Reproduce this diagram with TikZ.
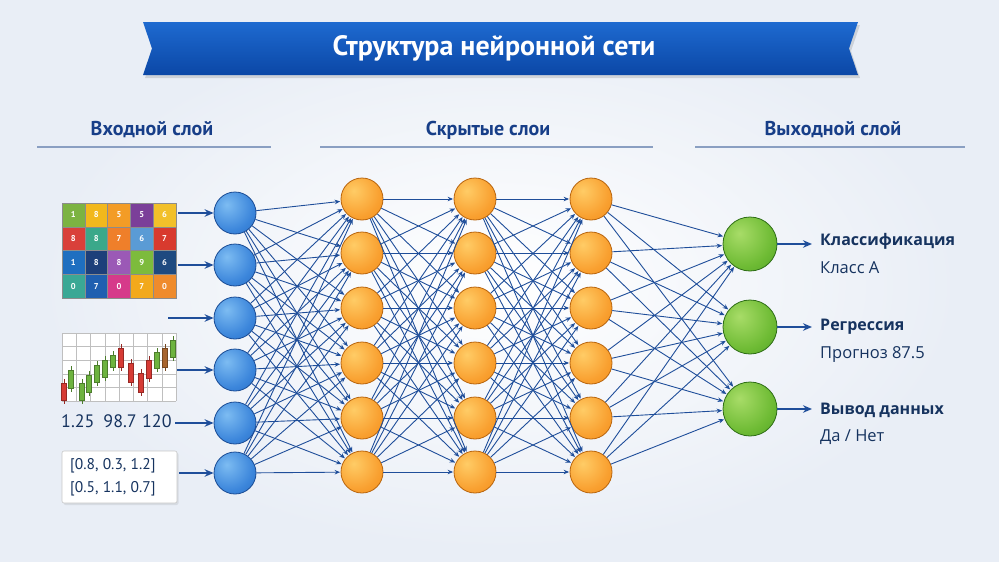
\documentclass[tikz,border=0pt]{standalone}
\usepackage{fontspec}
\setmainfont{PT Sans}
\newfontfamily\labfont{Open Sans}
\usetikzlibrary{arrows.meta,calc}
\definecolor{bgc}{HTML}{E9EEF6}
\definecolor{navy}{HTML}{173E88}
\definecolor{txtc}{HTML}{16335F}
\definecolor{conc}{HTML}{1F4E9A}
\definecolor{lineC}{HTML}{8A9FC2}
\definecolor{bnTop}{HTML}{1E6AD0}
\definecolor{bnBot}{HTML}{0B47A6}
\definecolor{bA}{HTML}{7DBCF2}
\definecolor{bB}{HTML}{3C86DB}
\definecolor{bC}{HTML}{1C5DB8}
\definecolor{bD}{HTML}{1A4C95}
\definecolor{oA}{HTML}{FFCC66}
\definecolor{oB}{HTML}{F9A030}
\definecolor{oC}{HTML}{EE8410}
\definecolor{oD}{HTML}{B8650E}
\definecolor{gA}{HTML}{A8DC68}
\definecolor{gB}{HTML}{6EBB34}
\definecolor{gC}{HTML}{3F931E}
\definecolor{gD}{HTML}{2E6E16}
\pgfdeclareradialshading{bluen}{\pgfpoint{-10bp}{10bp}}{color(0bp)=(bA); color(28bp)=(bB); color(55bp)=(bC); color(100bp)=(bC)}
\pgfdeclareradialshading{orangen}{\pgfpoint{-10bp}{10bp}}{color(0bp)=(oA); color(28bp)=(oB); color(55bp)=(oC); color(100bp)=(oC)}
\pgfdeclareradialshading{greenn}{\pgfpoint{-10bp}{10bp}}{color(0bp)=(gA); color(28bp)=(gB); color(55bp)=(gC); color(100bp)=(gC)}
\tikzset{
  inn/.style={circle, minimum size=42pt, inner sep=0pt, draw=bD, line width=0.8pt, shading=bluen},
  hid/.style={circle, minimum size=42pt, inner sep=0pt, draw=oD, line width=0.8pt, shading=orangen},
  outn/.style={circle, minimum size=54pt, inner sep=0pt, draw=gD, line width=0.8pt, shading=greenn},
  conn/.style={draw=conc, line width=0.9pt, -{Stealth[length=5.5pt,width=4.5pt]}, shorten >=0.5pt},
  inarr/.style={draw=conc, line width=1.5pt, -{Stealth[length=9pt,width=7.5pt]}},
  head/.style={text=navy, font=\bfseries\fontsize{20}{24}\selectfont},
  hline/.style={draw=lineC, line width=1.3pt},
  lab/.style={anchor=west, text=txtc, inner sep=0pt},
  cell/.style={draw=black!45, line width=0.4pt},
  cnum/.style={text=white, font=\bfseries\fontsize{8.5}{10}\selectfont, inner sep=0pt},
}
\begin{document}
\begin{tikzpicture}[x=1pt,y=-1pt]
\useasboundingbox (0,0) rectangle (999,562);
% background
\fill[bgc] (0,0) rectangle (999,562);
\shade[inner color=white, outer color=bgc] (40,20) rectangle (960,550);
% banner
\fill[black, opacity=0.12] (145,25) -- (860,25) -- (851,51) -- (860,78) -- (145,78) -- (154,51) -- cycle;
\shade[top color=bnTop, bottom color=bnBot] (143,22) -- (858,22) -- (849,48.5) -- (858,75) -- (143,75) -- (152,48.5) -- cycle;
\node[text=white, font=\bfseries\fontsize{28}{32}\selectfont] (title) at (494,48) {Структура нейронной сети};
% headings
\node[head] (hin) at (152,130) {Входной слой};
\node[head] (hhid) at (488,130) {Скрытые слои};
\node[head] (hout) at (833,130) {Выходной слой};
\draw[hline] (37,147) -- (271,147);
\draw[hline] (320,147) -- (653,147);
\draw[hline] (695,147) -- (965,147);
% input nodes
\foreach \i/\y in {1/213,2/265,3/318,4/370,5/423,6/473}{
  \node[inn] (i\i) at (235,\y) {};
}
\foreach \i/\y in {1/199,2/253,3/308,4/363,5/418,6/472}{
  \node[hid] (a\i) at (362,\y) {};
  \node[hid] (b\i) at (475,\y) {};
  \node[hid] (c\i) at (591,\y) {};
}
\foreach \i/\y in {1/244,2/327,3/409}{
  \node[outn] (o\i) at (750,\y) {};
}
% connections
\foreach \p in {1,...,6}{
  \foreach \q in {1,...,6}{
    \draw[conn] (i\p) -- (a\q);
    \draw[conn] (a\p) -- (b\q);
    \draw[conn] (b\p) -- (c\q);
  }
  \foreach \q in {1,2,3}{
    \draw[conn] (c\p) -- (o\q);
  }
}
% grid of numbers
\def\cw{22.8}\def\ch{23.75}
\foreach \r/\row in {0/{7CB342/1,F2B81C/8,F39C26/5,7B3F99/5,F2C02A/6},
                      1/{D9403A/8,3AA88A/8,EF7F2A/7,5A9BD5/6,D83A2E/7},
                      2/{1F6FC0/1,1D3F7A/8,9B59B6/8,7DBB3C/9,1E4A80/6},
                      3/{3AA895/0,1F5FB0/7,D63A8A/0,F2A91C/7,EF8B2C/0}}{
  \foreach \col/\num [count=\c from 0] in \row {
    \definecolor{cc}{HTML}{\col}
    \fill[cc] (62+\c*\cw,203+\r*\ch) rectangle ++(\cw,\ch);
    \draw[cell] (62+\c*\cw,203+\r*\ch) rectangle ++(\cw,\ch);
    \node[cnum] at (62+\c*\cw+\cw/2,203+\r*\ch+\ch/2) {\num};
  }
}
% chart
\fill[white] (62,333) rectangle (176,401);
\foreach \k in {0,...,8}{ \draw[black!25, line width=0.4pt] (62+\k*14.25,333) -- (62+\k*14.25,401); }
\foreach \k in {0,...,5}{ \draw[black!25, line width=0.4pt] (62,333+\k*13.6) -- (176,333+\k*13.6); }
\foreach \x/\t/\b/\cl in {64/383/400/D63B35, 71/370/388/6DB33F, 82/383/400/6DB33F, 89/375/392/6DB33F,
   97/365/382/6DB33F, 105/360/377/6DB33F, 113/355/367/6DB33F, 121/348/367/D63B35,
   131/363/382/D63B35, 141/373/392/D63B35, 149/360/378/D63B35, 157/352/368/6DB33F,
   165/348/367/A8652E, 173/340/357/6DB33F}{
  \definecolor{kc}{HTML}{\cl}
  \draw[kc!70!black, line width=0.6pt] (\x,\t-4) -- (\x,\b+4);
  \fill[kc] (\x-2.6,\t) rectangle (\x+2.6,\b);
  \draw[kc!70!black, line width=0.3pt] (\x-2.6,\t) rectangle (\x+2.6,\b);
}
\node[text=txtc, font=\fontsize{18}{20}\selectfont, anchor=west, inner sep=0pt] (nums) at (61,421) {1.25\hspace{0.5em}98.7\hspace{0.3em}120};
% vector box
\fill[black, opacity=0.08, rounded corners=2pt] (63.5,452.5) rectangle (178.5,505);
\draw[black!22, fill=white, rounded corners=2pt, line width=0.6pt] (62,451) rectangle (177,503);
\node[text=txtc, font=\fontsize{15.5}{18}\selectfont, anchor=west, inner sep=0pt] (v1) at (70,466) {[0.8, 0.3, 1.2]};
\node[text=txtc, font=\fontsize{15.5}{18}\selectfont, anchor=west, inner sep=0pt] (v2) at (70,489) {[0.5, 1.1, 0.7]};
% input arrows
\foreach \i/\x/\y in {1/178/213,2/178/265,3/168/318,4/177/370,5/175/423,6/179/473}{
  \coordinate (s\i) at (\x,\y);
  \draw[inarr] (s\i) -- (i\i);
}
% outputs
\foreach \i/\y in {1/244,2/327,3/409}{
  \coordinate (e\i) at (812,\y);
  \draw[inarr] (o\i) -- (e\i);
}
\node[lab, font=\labfont\bfseries\fontsize{16}{18}\selectfont] (l1) at (820,241) {Классификация};
\node[lab, font=\labfont\fontsize{16.5}{18}\selectfont] (m1) at (820,268) {Класс A};
\node[lab, font=\labfont\bfseries\fontsize{16}{18}\selectfont] (l2) at (820,327) {Регрессия};
\node[lab, font=\labfont\fontsize{16.5}{18}\selectfont] (m2) at (820,355) {Прогноз 87.5};
\node[lab, font=\labfont\bfseries\fontsize{16}{18}\selectfont] (l3) at (820,410) {Вывод данных};
\node[lab, font=\labfont\fontsize{16.5}{18}\selectfont] (m3) at (820,437) {Да / Нет};
\end{tikzpicture}
\end{document}
